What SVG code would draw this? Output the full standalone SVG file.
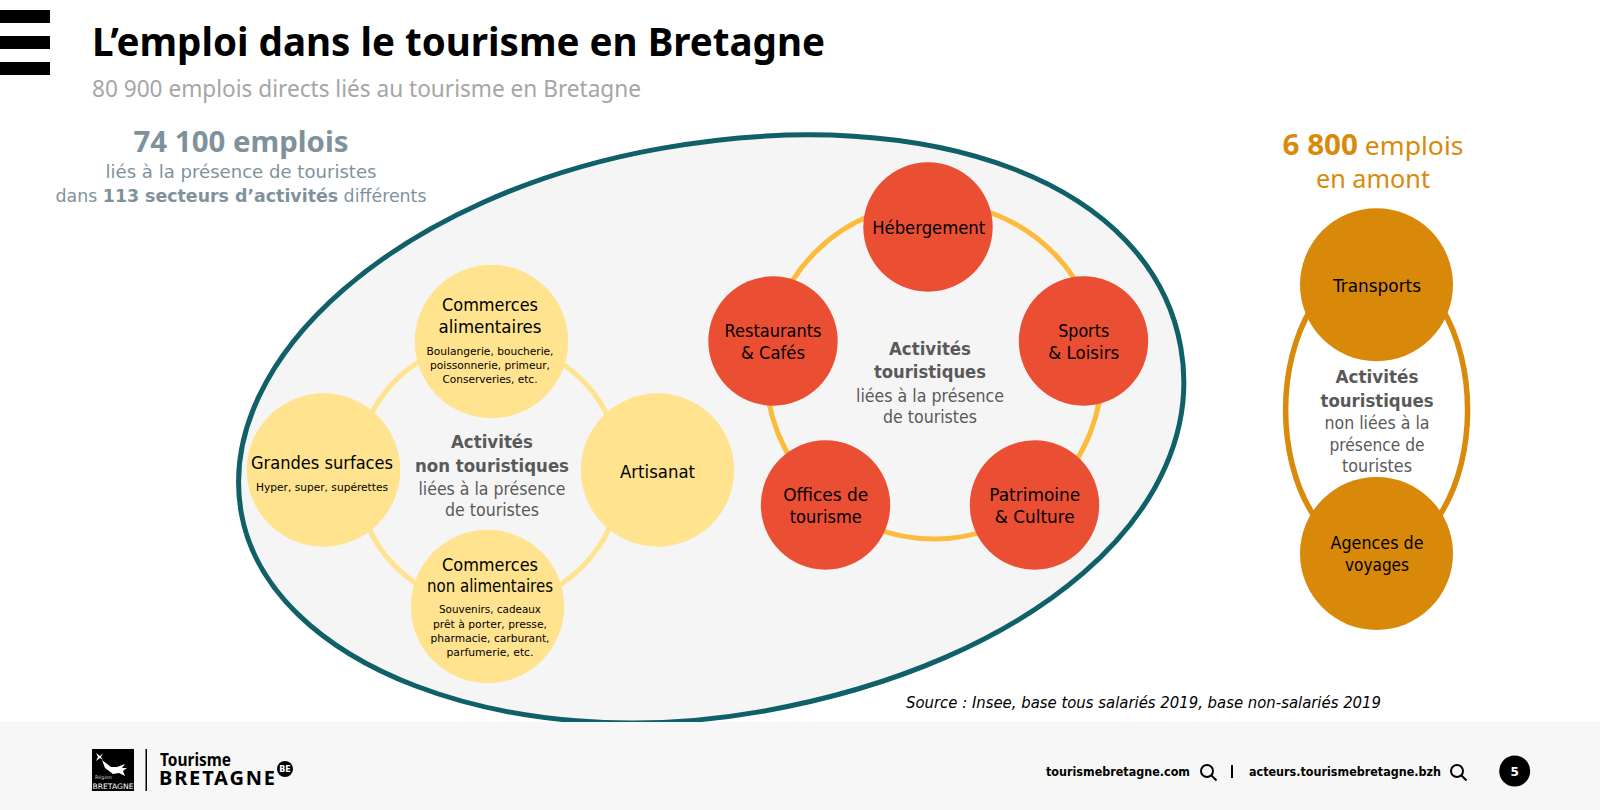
<svg xmlns="http://www.w3.org/2000/svg" width="1600" height="810" viewBox="0 0 1600 810">
<style>
text{font-family:"DejaVu Sans","Liberation Sans",sans-serif;text-anchor:middle;fill:#000}
.h{font-family:"Noto Sans","DejaVu Sans",sans-serif}
.n{font-size:17.5px}
.s{font-size:11px}
.cb{font-size:18.5px;font-weight:700;fill:#595959}
.cr{font-size:17px;fill:#595959}
.gr{fill:#7F929C}
.or{fill:#D98A0A}
.y{fill:#FFE38F}.r{fill:#EA4E33}.o{fill:#D8890A}
.ring{fill:none}
.f{font-size:12.5px;font-weight:700;text-anchor:start}
.mg{fill:none;stroke:#000;stroke-width:2}
</style>
<rect width="1600" height="810" fill="#fff"/>
<g id="menu"><rect x="0" y="10" width="50" height="13"/><rect x="0" y="36" width="50" height="13"/><rect x="0" y="62" width="50" height="13"/></g>
<g id="header">
<text class="h" x="92" y="56" font-size="40" font-weight="700" style="text-anchor:start" textLength="733" lengthAdjust="spacingAndGlyphs">L’emploi dans le tourisme en Bretagne</text>
<text class="h" x="92" y="97" font-size="23" style="text-anchor:start;fill:#A6A6A6" textLength="549" lengthAdjust="spacingAndGlyphs">80 900 emplois directs liés au tourisme en Bretagne</text>
<text class="gr h" x="241" y="152" font-size="29" font-weight="700" textLength="215" lengthAdjust="spacingAndGlyphs">74 100 emplois</text>
<text class="gr" x="241" y="178" font-size="18.5" textLength="271" lengthAdjust="spacingAndGlyphs">liés à la présence de touristes</text>
<text class="gr" x="241" y="202" font-size="18.5" textLength="371" lengthAdjust="spacingAndGlyphs">dans <tspan font-weight="700">113 secteurs d’activités</tspan> différents</text>
<text class="or h" x="1373" y="155" font-size="26" textLength="181" lengthAdjust="spacingAndGlyphs"><tspan font-weight="700" font-size="29">6 800</tspan> emplois</text>
<text class="or h" x="1373" y="188" font-size="26" textLength="114" lengthAdjust="spacingAndGlyphs">en amont</text>
</g>
<g id="zone"><path transform="rotate(-10 711 430)" d="M711 144C987.7 144 1188 264.1 1188 430C1188 595.9 987.7 716 711 716C453.4 716 234 584.4 234 430C234 272 447.6 144 711 144Z" fill="#F5F5F5" stroke="#0F6068" stroke-width="5"/></g>
<g id="connectors">
<circle class="ring" cx="489" cy="473.5" r="132" stroke="#FFE38F" stroke-width="5"/>
<circle class="ring" cx="934" cy="371" r="168" stroke="#FCBB3B" stroke-width="5"/>
<ellipse class="ring" cx="1376.6" cy="410" rx="91" ry="146" stroke="#D98A0A" stroke-width="5.5"/>
</g>
<g id="commerces-alimentaires"><circle class="y" cx="491.5" cy="341.5" r="76.7"/>
<text class="n" x="490" y="311" textLength="96" lengthAdjust="spacingAndGlyphs">Commerces</text>
<text class="n" x="490" y="333" textLength="103" lengthAdjust="spacingAndGlyphs">alimentaires</text>
<text class="s" x="490" y="355" textLength="127" lengthAdjust="spacingAndGlyphs">Boulangerie, boucherie,</text>
<text class="s" x="490" y="369" textLength="120" lengthAdjust="spacingAndGlyphs">poissonnerie, primeur,</text>
<text class="s" x="490" y="383" textLength="95" lengthAdjust="spacingAndGlyphs">Conserveries, etc.</text></g>
<g id="grandes-surfaces"><circle class="y" cx="323.5" cy="470" r="76.7"/>
<text class="n" x="322" y="469" textLength="142" lengthAdjust="spacingAndGlyphs">Grandes surfaces</text>
<text class="s" x="322" y="491" textLength="132" lengthAdjust="spacingAndGlyphs">Hyper, super, supérettes</text></g>
<g id="artisanat"><circle class="y" cx="657.5" cy="470" r="76.7"/>
<text class="n" x="657.5" y="478" textLength="75" lengthAdjust="spacingAndGlyphs">Artisanat</text></g>
<g id="commerces-non-alimentaires"><circle class="y" cx="487.5" cy="606.5" r="76.7"/>
<text class="n" x="490" y="571" textLength="96" lengthAdjust="spacingAndGlyphs">Commerces</text>
<text class="n" x="490" y="592" textLength="126" lengthAdjust="spacingAndGlyphs">non alimentaires</text>
<text class="s" x="490" y="613" textLength="102" lengthAdjust="spacingAndGlyphs">Souvenirs, cadeaux</text>
<text class="s" x="490" y="628" textLength="114" lengthAdjust="spacingAndGlyphs">prêt à porter, presse,</text>
<text class="s" x="490" y="642" textLength="119" lengthAdjust="spacingAndGlyphs">pharmacie, carburant,</text>
<text class="s" x="490" y="656" textLength="87" lengthAdjust="spacingAndGlyphs">parfumerie, etc.</text></g>
<g id="label-non-touristiques">
<text class="cb" x="492" y="448" textLength="82" lengthAdjust="spacingAndGlyphs">Activités</text>
<text class="cb" x="492" y="472" textLength="154" lengthAdjust="spacingAndGlyphs">non touristiques</text>
<text class="cr" x="492" y="495" textLength="147" lengthAdjust="spacingAndGlyphs">liées à la présence</text>
<text class="cr" x="492" y="516" textLength="94" lengthAdjust="spacingAndGlyphs">de touristes</text></g>
<g id="hebergement"><circle class="r" cx="928" cy="227" r="64.7"/>
<text class="n" x="928.7" y="234" textLength="113" lengthAdjust="spacingAndGlyphs">Hébergement</text></g>
<g id="restaurants"><circle class="r" cx="773" cy="341" r="64.7"/>
<text class="n" x="773" y="337" textLength="97" lengthAdjust="spacingAndGlyphs">Restaurants</text>
<text class="n" x="773" y="359" textLength="64" lengthAdjust="spacingAndGlyphs">&amp; Cafés</text></g>
<g id="sports"><circle class="r" cx="1083.5" cy="341" r="64.7"/>
<text class="n" x="1083.7" y="337" textLength="51" lengthAdjust="spacingAndGlyphs">Sports</text>
<text class="n" x="1083.7" y="359" textLength="71" lengthAdjust="spacingAndGlyphs">&amp; Loisirs</text></g>
<g id="offices"><circle class="r" cx="825.5" cy="505" r="64.7"/>
<text class="n" x="825.7" y="501" textLength="85" lengthAdjust="spacingAndGlyphs">Offices de</text>
<text class="n" x="825.7" y="523" textLength="72" lengthAdjust="spacingAndGlyphs">tourisme</text></g>
<g id="patrimoine"><circle class="r" cx="1034.5" cy="505" r="64.7"/>
<text class="n" x="1034.7" y="501" textLength="91" lengthAdjust="spacingAndGlyphs">Patrimoine</text>
<text class="n" x="1034.7" y="523" textLength="80" lengthAdjust="spacingAndGlyphs">&amp; Culture</text></g>
<g id="label-touristiques">
<text class="cb" x="930" y="355" textLength="82" lengthAdjust="spacingAndGlyphs">Activités</text>
<text class="cb" x="930" y="378" textLength="112" lengthAdjust="spacingAndGlyphs">touristiques</text>
<text class="cr" x="930" y="402" textLength="148" lengthAdjust="spacingAndGlyphs">liées à la présence</text>
<text class="cr" x="930" y="423" textLength="94" lengthAdjust="spacingAndGlyphs">de touristes</text></g>
<g id="transports"><circle class="o" cx="1376.5" cy="284.7" r="76.5"/>
<text class="n" x="1377" y="292" textLength="88" lengthAdjust="spacingAndGlyphs">Transports</text></g>
<g id="agences"><circle class="o" cx="1376.5" cy="553.5" r="76.5"/>
<text class="n" x="1377" y="549" textLength="93" lengthAdjust="spacingAndGlyphs">Agences de</text>
<text class="n" x="1377" y="571" textLength="64" lengthAdjust="spacingAndGlyphs">voyages</text></g>
<g id="label-amont">
<text class="cb" x="1377" y="383" textLength="83" lengthAdjust="spacingAndGlyphs">Activités</text>
<text class="cb" x="1377" y="407" textLength="113" lengthAdjust="spacingAndGlyphs">touristiques</text>
<text class="cr" x="1377" y="429" textLength="105" lengthAdjust="spacingAndGlyphs">non liées à la</text>
<text class="cr" x="1377" y="451" textLength="95" lengthAdjust="spacingAndGlyphs">présence de</text>
<text class="cr" x="1377" y="472" textLength="70" lengthAdjust="spacingAndGlyphs">touristes</text></g>
<g id="footer">
<rect x="0" y="722" width="1600" height="88" fill="#F7F7F7"/>
<rect x="92" y="749" width="42" height="42"/>
<path d="M102 760l9 7 6 0 8-3-3 4 5 0-4 3 2 5-6-3-6 1-8-6z" fill="#fff"/>
<path d="M96 753l4 3 3-3-2 4 2 3-3-2-4 3 2-4z" fill="#fff"/>
<text x="103.5" y="779" font-size="5" style="fill:#ccc" textLength="17" lengthAdjust="spacingAndGlyphs">Région</text>
<text x="113" y="789" font-size="7.5" style="fill:#fff" textLength="41" lengthAdjust="spacingAndGlyphs">BRETAGNE</text>
<rect x="145.5" y="749" width="1.5" height="42"/>
<text class="h" x="160" y="766" font-size="18" font-weight="700" style="text-anchor:start" textLength="71" lengthAdjust="spacingAndGlyphs">Tourisme</text>
<text class="h" x="159" y="785" font-size="20" font-weight="700" style="text-anchor:start" textLength="116" lengthAdjust="spacing">BRETAGNE</text>
<circle cx="285" cy="769" r="8"/>
<text x="285" y="772" font-size="8" font-weight="700" style="fill:#fff">BE</text>
<text class="f" x="1046" y="776" textLength="144" lengthAdjust="spacingAndGlyphs">tourismebretagne.com</text>
<circle class="mg" cx="1207" cy="771" r="6"/><path class="mg" d="M1211.5 775.5l5 5"/>
<rect x="1231" y="765" width="2" height="13"/>
<text class="f" x="1249" y="776" textLength="192" lengthAdjust="spacingAndGlyphs">acteurs.tourismebretagne.bzh</text>
<circle class="mg" cx="1457" cy="771" r="6"/><path class="mg" d="M1461.5 775.5l5 5"/>
<circle cx="1514.7" cy="771" r="15.5"/>
<text x="1514.7" y="775.5" font-size="12" font-weight="700" style="fill:#fff">5</text>
</g>
<text id="source" x="1143.5" y="708" font-size="16" font-style="italic" textLength="475" lengthAdjust="spacingAndGlyphs">Source : Insee, base tous salariés 2019, base non-salariés 2019</text>
</svg>
